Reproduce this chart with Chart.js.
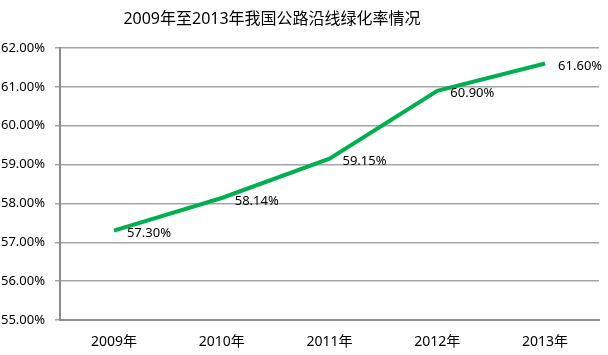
<!DOCTYPE html>
<html>
<head>
<meta charset="utf-8">
<script src="https://cdn.jsdelivr.net/npm/chart.js@4"></script>
<style>
html,body{margin:0;padding:0;background:#fff;}
#wrap{position:relative;width:608px;height:355px;}
</style>
</head>
<body>
<div id="wrap"><canvas id="c" width="608" height="355"></canvas></div>
<script>
const title = '2009年至2013年我国公路沿线绿化率情况';
const categories = ['2009年', '2010年', '2011年', '2012年', '2013年'];
const greeningRate = [57.30, 58.14, 59.15, 60.90, 61.60];
const yTickMin = 55;
const yTickMax = 62;
const yTickStep = 1;

const FONT = "'Noto Sans', 'Noto Sans CJK SC', sans-serif";

const titlePlugin = {
  id: 'customTitle',
  afterDraw(chart) {
    const ctx = chart.ctx;
    ctx.save();
    ctx.font = '16px ' + FONT;
    ctx.fillStyle = '#000';
    ctx.textAlign = 'center';
    ctx.textBaseline = 'middle';
    ctx.fillText(title, 272, 19);
    ctx.restore();
  }
};

const labelPlugin = {
  id: 'dataLabels',
  afterDatasetsDraw(chart) {
    const ctx = chart.ctx;
    const meta = chart.getDatasetMeta(0);
    ctx.save();
    ctx.font = '13px ' + FONT;
    ctx.fillStyle = '#000';
    ctx.textAlign = 'left';
    ctx.textBaseline = 'middle';
    meta.data.forEach((pt, i) => {
      ctx.fillText(greeningRate[i].toFixed(2) + '%', pt.x + 13, pt.y + 3);
    });
    ctx.restore();
  }
};

new Chart(document.getElementById('c'), {
  type: 'line',
  data: {
    labels: categories,
    datasets: [{
      data: greeningRate,
      borderColor: '#00b050',
      borderWidth: 4,
      pointRadius: 0,
      tension: 0,
      fill: false
    }]
  },
  options: {
    responsive: false,
    animation: false,
    layout: { padding: { top: 48, right: 9, left: 0, bottom: 0 } },
    plugins: { legend: { display: false }, tooltip: { enabled: false }, title: { display: false } },
    scales: {
      x: {
        offset: true,
        grid: { display: false, drawTicks: false },
        border: { color: '#8c8c8c', width: 2 },
        ticks: { color: '#000', font: { size: 14, family: FONT }, padding: 14 },
        afterFit(s) { s.height = 35; }
      },
      y: {
        min: yTickMin,
        max: yTickMax,
        ticks: {
          stepSize: yTickStep,
          color: '#000',
          font: { size: 13, family: FONT },
          padding: 10,
          callback: v => v.toFixed(2) + '%'
        },
        grid: { color: '#a6a6a6', lineWidth: 1.5, drawTicks: true, tickLength: 5 },
        border: { color: '#8c8c8c', width: 2 },
        afterFit(s) { s.width = 60; }
      }
    }
  },
  plugins: [titlePlugin, labelPlugin]
});
</script>
</body>
</html>
